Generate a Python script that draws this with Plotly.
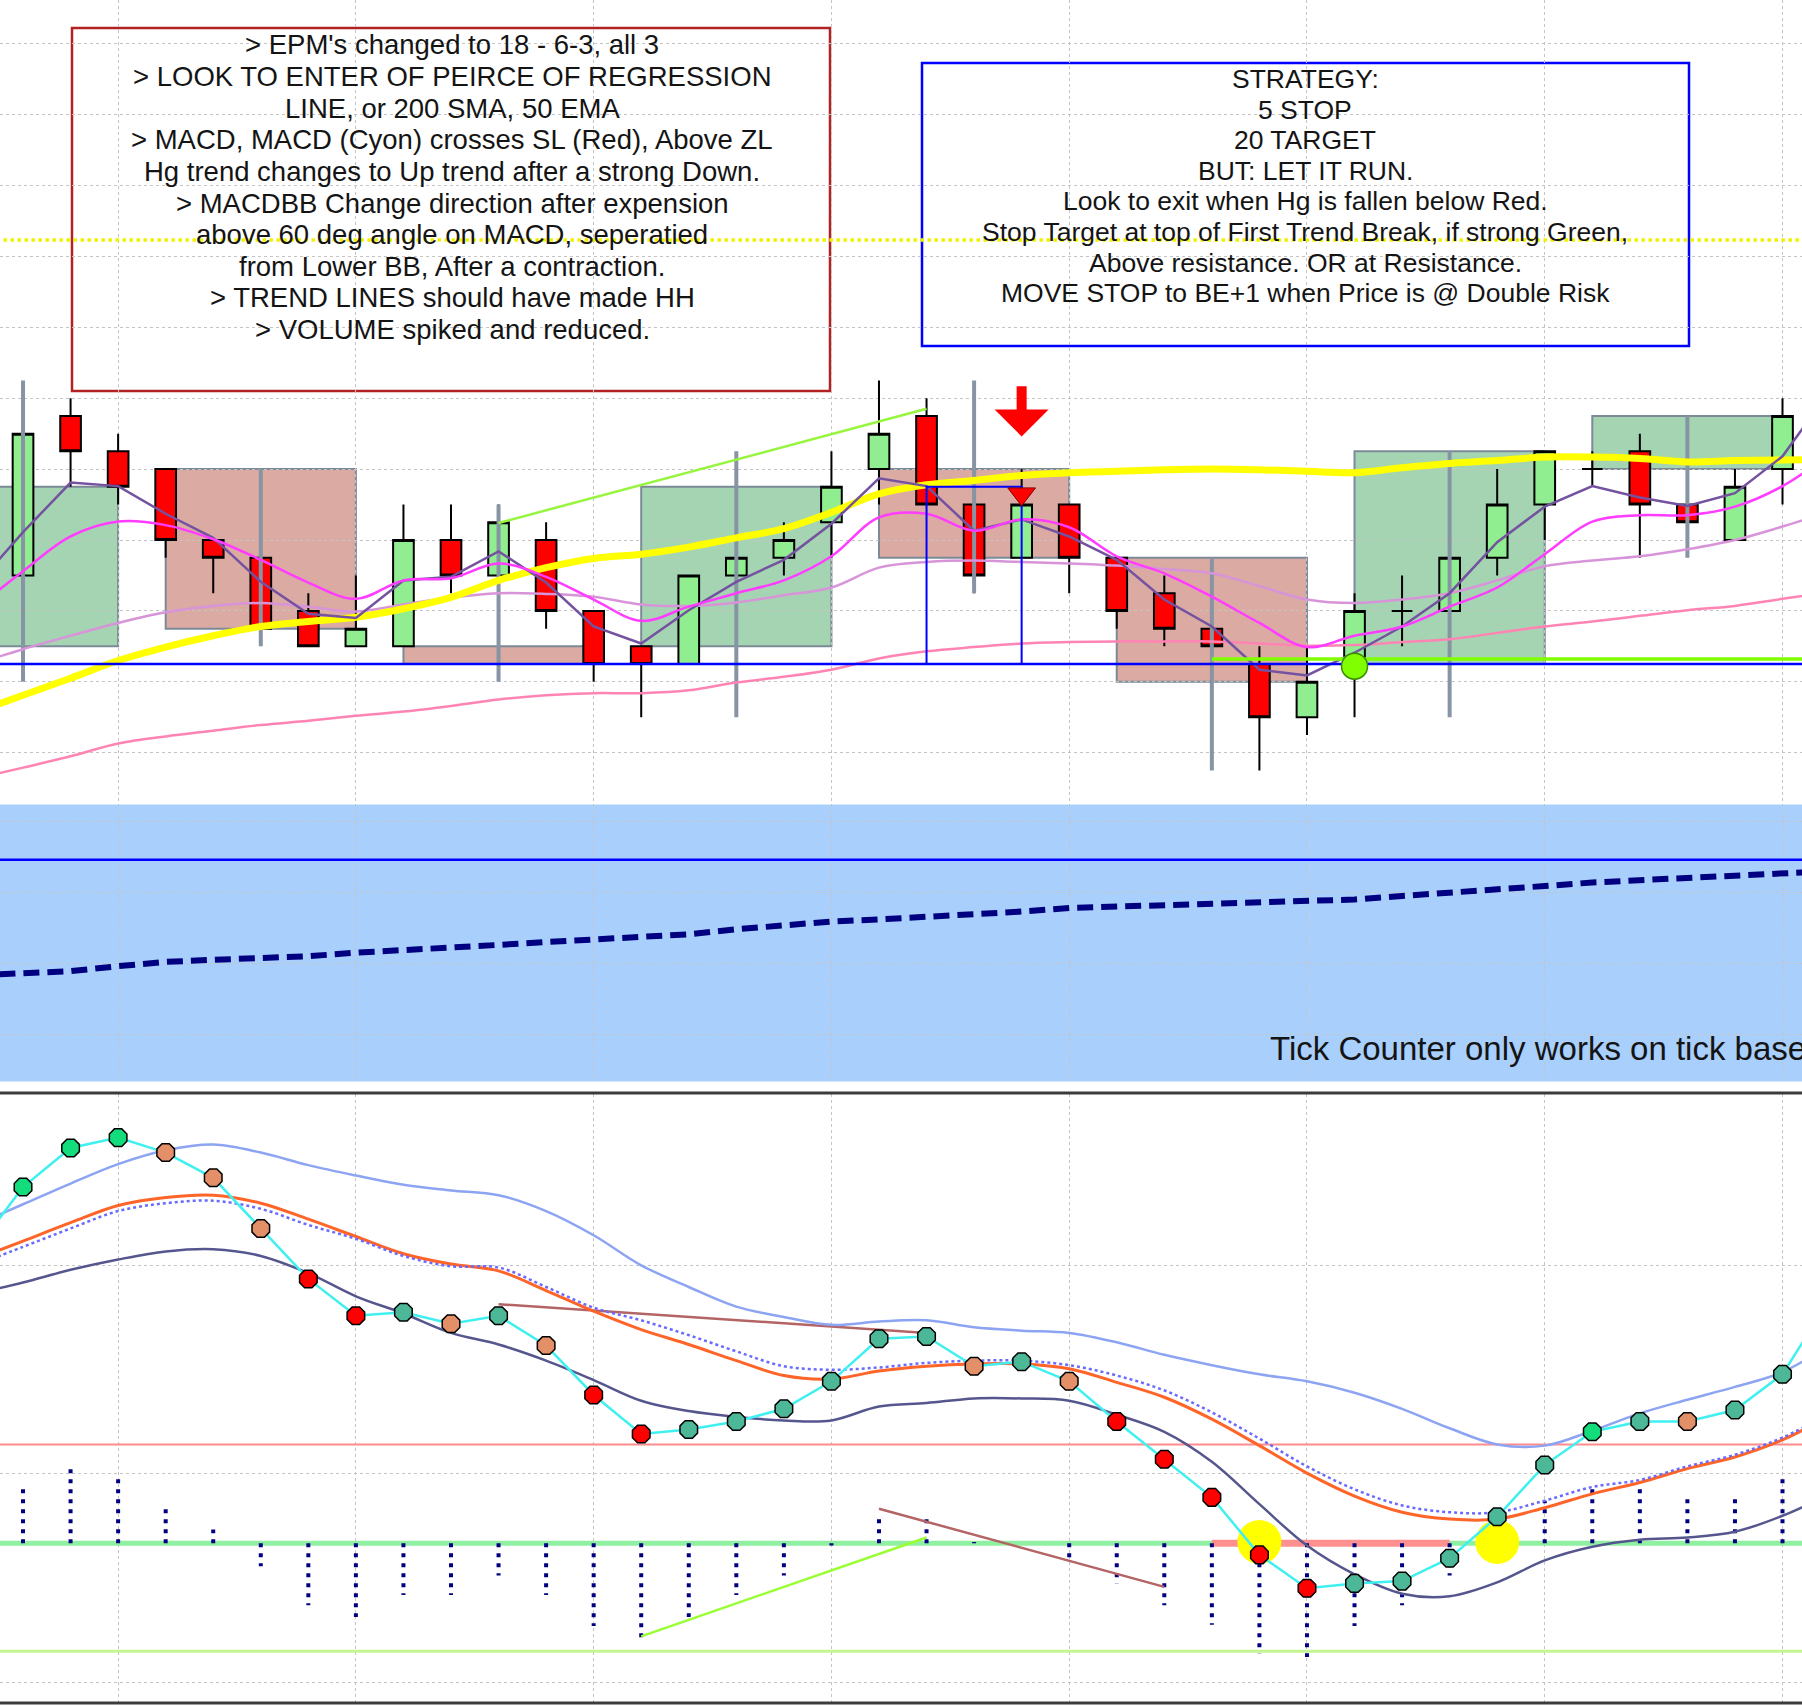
import plotly.graph_objects as go

W, H = 1802, 1706

# ---------------- price bars (tick = 0.25) ----------------
bars = list(range(38))
opens = [1298.50, 1300.75, 1300.25, 1300.00, 1299.00, 1298.75, 1298.00, 1297.50, 1297.50, 1299.00,
         1298.50, 1299.00, 1298.00, 1297.50, 1297.25, 1298.50, 1298.75, 1299.25, 1300.00, 1300.75,
         1299.50, 1298.75, 1299.50, 1298.75, 1298.25, 1297.75, 1297.25, 1296.50, 1297.25, 1298.00,
         1298.00, 1298.75, 1299.50, 1300.00, 1300.25, 1299.50, 1299.00, 1300.00]
highs = [1300.75, 1301.00, 1300.50, 1300.00, 1299.00, 1298.75, 1298.25, 1298.50, 1299.50, 1299.50,
         1299.50, 1299.25, 1298.00, 1297.50, 1298.50, 1299.00, 1299.25, 1300.25, 1301.25, 1301.00,
         1300.25, 1300.00, 1299.50, 1298.75, 1298.50, 1297.75, 1297.50, 1297.50, 1298.25, 1298.50,
         1299.00, 1300.00, 1300.25, 1300.25, 1300.50, 1299.75, 1300.00, 1301.00]
lows = [1298.25, 1299.75, 1299.50, 1298.75, 1298.25, 1297.75, 1297.50, 1297.50, 1297.50, 1298.25,
        1298.50, 1297.75, 1297.00, 1296.50, 1297.25, 1298.00, 1298.50, 1298.75, 1299.50, 1299.50,
        1298.25, 1298.75, 1298.25, 1297.75, 1297.50, 1297.25, 1295.75, 1296.25, 1296.50, 1297.50,
        1298.00, 1298.50, 1299.00, 1299.75, 1298.75, 1299.00, 1299.00, 1299.50]
closes = [1300.50, 1300.25, 1299.75, 1299.00, 1298.75, 1297.75, 1297.50, 1297.75, 1299.00, 1298.50,
          1299.25, 1298.00, 1297.25, 1297.25, 1298.50, 1298.75, 1299.00, 1299.75, 1300.50, 1299.50,
          1298.50, 1299.50, 1298.75, 1298.00, 1297.75, 1297.50, 1296.50, 1297.00, 1298.00, 1298.00,
          1298.75, 1299.50, 1300.25, 1300.00, 1299.50, 1299.25, 1299.75, 1300.75]

# overlays run one bar past each edge of the window
line_x = list(range(-1, 39))
sma_200 = [1296.57, 1296.81, 1297.05, 1297.30, 1297.49, 1297.65, 1297.78, 1297.85, 1297.91, 1298.03,
           1298.19, 1298.43, 1298.61, 1298.74, 1298.80, 1298.90, 1299.03, 1299.16, 1299.39, 1299.65,
           1299.78, 1299.84, 1299.91, 1299.95, 1299.97, 1299.99, 1300.00, 1299.99, 1299.97, 1299.95,
           1300.02, 1300.08, 1300.12, 1300.17, 1300.17, 1300.15, 1300.10, 1300.12, 1300.13, 1300.13]
ema_fast = [1298.35, 1299.11, 1299.81, 1299.76, 1299.37, 1299.03, 1298.41, 1297.96, 1297.90, 1298.43,
            1298.48, 1298.84, 1298.40, 1297.78, 1297.54, 1298.01, 1298.41, 1298.72, 1299.23, 1299.87,
            1299.76, 1299.13, 1299.29, 1299.05, 1298.72, 1298.16, 1297.78, 1297.17, 1297.09, 1297.41,
            1297.78, 1298.25, 1298.97, 1299.47, 1299.76, 1299.60, 1299.48, 1299.66, 1300.18, 1301.11]
ema_mid = [1298.03, 1298.56, 1299.05, 1299.26, 1299.21, 1299.01, 1298.72, 1298.40, 1298.17, 1298.43,
           1298.46, 1298.67, 1298.48, 1298.16, 1297.86, 1298.06, 1298.25, 1298.43, 1298.77, 1299.32,
           1299.37, 1299.13, 1299.29, 1299.18, 1298.77, 1298.53, 1298.20, 1297.83, 1297.49, 1297.65,
           1297.78, 1298.06, 1298.33, 1298.80, 1299.26, 1299.35, 1299.35, 1299.47, 1299.76, 1300.21]
ema_50 = [1297.25, 1297.46, 1297.65, 1297.83, 1297.98, 1298.07, 1298.11, 1298.06, 1297.99, 1298.09,
          1298.19, 1298.25, 1298.24, 1298.20, 1298.09, 1298.07, 1298.12, 1298.22, 1298.33, 1298.61,
          1298.69, 1298.71, 1298.69, 1298.67, 1298.64, 1298.59, 1298.53, 1298.35, 1298.16, 1298.11,
          1298.16, 1298.25, 1298.43, 1298.63, 1298.71, 1298.77, 1298.87, 1299.00, 1299.19, 1299.40]
sma_slow = [1295.63, 1295.79, 1295.95, 1296.13, 1296.23, 1296.31, 1296.39, 1296.45, 1296.52, 1296.58,
            1296.66, 1296.75, 1296.81, 1296.84, 1296.84, 1296.88, 1296.99, 1297.07, 1297.17, 1297.33,
            1297.43, 1297.49, 1297.54, 1297.56, 1297.57, 1297.57, 1297.57, 1297.54, 1297.51, 1297.52,
            1297.56, 1297.60, 1297.69, 1297.78, 1297.85, 1297.93, 1298.01, 1298.07, 1298.17, 1298.27]

# higher time frame candles (5 bars each)
htf_start = [-2, 3, 8, 13, 18, 23, 28, 33]
htf_open = [1297.50, 1300.00, 1297.50, 1297.50, 1300.00, 1298.75, 1297.25, 1300.00]
htf_close = [1299.75, 1297.75, 1297.25, 1299.75, 1298.75, 1297.00, 1300.25, 1300.75]
htf_high = [1301.25, 1300.00, 1299.50, 1300.25, 1301.25, 1298.75, 1300.25, 1300.75]
htf_low = [1297.00, 1297.50, 1297.00, 1296.50, 1298.25, 1295.75, 1296.50, 1298.75]

support_level = 1297.25
entry_level = 1297.32
entry_from_bar = 25
trend_bars = [10, 19]
trend_prices = [1299.24, 1300.85]
risk_bars = [19, 21]
risk_prices = [1297.25, 1299.75]
target_level = 1303.23
arrow_bar = 21
arrow_prices = [1301.19, 1300.46]
short_price = 1299.65
long_bar = 28
long_price = 1297.22

# ---------------- tick counter panel ----------------
tick_ma = [8.3, 8.6, 8.9, 9.6, 10.2, 10.5, 10.7, 11.0, 11.5, 11.8, 12.2, 12.6, 13.0, 13.3, 13.6, 14.1,
           14.8, 15.4, 15.9, 16.2, 16.5, 16.9, 17.3, 17.8, 18.0, 18.2, 18.3, 18.5, 18.8, 19.0, 19.5,
           19.9, 20.4, 20.9, 21.4, 21.7, 22.0, 22.4, 22.7, 23.0]
tick_level = 24.6

# ---------------- MACD BB panel ----------------
macd = [1.417, 1.722, 1.911, 1.961, 1.889, 1.767, 1.522, 1.278, 1.100, 1.117, 1.061, 1.100, 0.956,
        0.717, 0.528, 0.550, 0.589, 0.650, 0.783, 0.989, 1.000, 0.856, 0.878, 0.783, 0.589, 0.406,
        0.222, -0.056, -0.217, -0.194, -0.183, -0.072, 0.128, 0.378, 0.539, 0.589, 0.589, 0.644,
        0.817, 1.183]
macd_state = ["G", "G", "G", "S", "S", "S", "R", "R", "T", "S", "T", "S", "R", "R", "T", "T", "T",
              "T", "T", "T", "S", "T", "S", "R", "R", "R", "R", "R", "T", "T", "T", "T", "T", "G",
              "T", "S", "T", "T"]
macd_upper = [1.539, 1.639, 1.739, 1.833, 1.900, 1.928, 1.889, 1.828, 1.778, 1.733, 1.706, 1.683,
              1.606, 1.489, 1.344, 1.239, 1.144, 1.094, 1.056, 1.072, 1.078, 1.044, 1.028, 1.017,
              0.972, 0.911, 0.861, 0.817, 0.783, 0.728, 0.650, 0.556, 0.478, 0.472, 0.544, 0.628,
              0.694, 0.756, 0.828, 0.961]
macd_signal = [1.372, 1.461, 1.550, 1.633, 1.672, 1.683, 1.644, 1.567, 1.483, 1.400, 1.350, 1.317,
               1.222, 1.122, 1.033, 0.961, 0.883, 0.811, 0.794, 0.833, 0.856, 0.867, 0.867, 0.844,
               0.778, 0.706, 0.600, 0.472, 0.339, 0.228, 0.150, 0.117, 0.117, 0.172, 0.239, 0.294,
               0.361, 0.417, 0.500, 0.617]
macd_basis = [1.344, 1.433, 1.522, 1.606, 1.644, 1.656, 1.617, 1.539, 1.472, 1.389, 1.339, 1.333,
              1.239, 1.139, 1.078, 1.006, 0.928, 0.856, 0.839, 0.850, 0.872, 0.883, 0.883, 0.861,
              0.811, 0.739, 0.633, 0.506, 0.372, 0.261, 0.183, 0.150, 0.150, 0.206, 0.272, 0.306,
              0.372, 0.428, 0.511, 0.628]
macd_slow = [1.206, 1.261, 1.322, 1.372, 1.411, 1.422, 1.389, 1.306, 1.194, 1.111, 1.017, 0.961,
             0.883, 0.789, 0.689, 0.639, 0.611, 0.594, 0.594, 0.661, 0.678, 0.700, 0.700, 0.689,
             0.622, 0.539, 0.394, 0.189, -0.011, -0.150, -0.244, -0.256, -0.189, -0.083, -0.017,
             0.017, 0.028, 0.056, 0.133, 0.239]
macd_hist = [0.267, 0.361, 0.322, 0.178, 0.067, -0.111, -0.300, -0.356, -0.250, -0.250, -0.156,
             -0.250, -0.400, -0.461, -0.356, -0.250, -0.156, -0.011, 0.122, 0.122, 0.006, 0.0,
             -0.067, -0.194, -0.300, -0.394, -0.533, -0.550, -0.400, -0.300, -0.156, 0.011, 0.206,
             0.267, 0.267, 0.222, 0.222, 0.322]
upper_level = 0.478
lower_level = -0.522
zero_band_bars = [25, 30]
cross_bars = [26, 31]
cross_values = [0.006, 0.006]
macd_trend_hi = ([10, 19], [1.156, 1.017])
macd_trend_mid = ([18, 24], [0.167, -0.211])
macd_trend_up = ([13, 19], [-0.450, 0.028])

note_lines = [
    "> EPM's changed to 18 - 6-3, all 3",
    "> LOOK TO ENTER OF PEIRCE OF REGRESSION",
    "LINE, or 200 SMA, 50 EMA",
    "> MACD, MACD (Cyon) crosses SL (Red), Above ZL",
    "Hg trend changes to Up trend after a strong Down.",
    "> MACDBB Change direction after expension",
    "above 60 deg angle on MACD, seperatied",
    "from Lower BB, After a contraction.",
    "> TREND LINES should have made HH",
    "> VOLUME spiked and reduced.",
]
strategy_lines = [
    "STRATEGY:",
    "5 STOP",
    "20 TARGET",
    "BUT: LET IT RUN.",
    "Look to exit when Hg is fallen below Red.",
    "Stop Target at top of First Trend Break, if strong Green,",
    "Above resistance. OR at Resistance.",
    "MOVE STOP to BE+1 when Price is @ Double Risk",
]

FONT = "Arial, Liberation Sans, sans-serif"
state_colors = {"G": "#12dc7c", "T": "#4db898", "S": "#e39068", "R": "#ff0000"}


def ln(x, y, color, width, axis, dash="solid", shape="linear"):
    return go.Scatter(x=x, y=y, mode="lines", line=dict(color=color, width=width, dash=dash, shape=shape),
                      xaxis=axis[0], yaxis=axis[1], hoverinfo="skip", showlegend=False)


P = ("x", "y")
M = ("x2", "y2")
B = ("x3", "y3")

fig = go.Figure()

# higher time frame wicks
wx, wy = [], []
for s, hi, lo in zip(htf_start, htf_high, htf_low):
    wx += [s + 2, s + 2, None]
    wy += [lo, hi, None]
fig.add_trace(ln(wx, wy, "#8794a3", 4, P))

fig.add_trace(ln(line_x, sma_slow, "#ff84b4", 2.5, P, shape="spline"))
fig.add_trace(ln(line_x, ema_50, "#d894d8", 2.5, P, shape="spline"))
fig.add_trace(ln(line_x, sma_200, "#ffff00", 7, P, shape="spline"))

fig.add_trace(go.Candlestick(
    x=bars, open=opens, high=highs, low=lows, close=closes,
    increasing=dict(fillcolor="#90ee90", line=dict(color="black", width=2)),
    decreasing=dict(fillcolor="#ff0000", line=dict(color="black", width=2)),
    whiskerwidth=0, xaxis="x", yaxis="y", hoverinfo="skip", showlegend=False))

fig.add_trace(ln(line_x, ema_fast, "#7452a0", 2.5, P))
fig.add_trace(ln(line_x, ema_mid, "#ff3cff", 2.5, P, shape="spline"))

fig.add_trace(ln([line_x[0], line_x[-1]], [support_level] * 2, "#0000ff", 2.5, P))
fig.add_trace(ln([entry_from_bar, line_x[-1]], [entry_level] * 2, "#80ff00", 3.5, P))
fig.add_trace(ln(trend_bars, trend_prices, "#96f53c", 2.5, P))
fig.add_trace(ln([risk_bars[0], risk_bars[0], risk_bars[1], risk_bars[1]],
                 [risk_prices[0], risk_prices[1], risk_prices[1], risk_prices[0]], "#0000ff", 2, P))
fig.add_trace(ln([line_x[0], line_x[-1]], [target_level] * 2, "#f2f200", 3.5, P, dash="dot"))

fig.add_trace(go.Scatter(x=[arrow_bar], y=[short_price], mode="markers",
                         marker=dict(symbol="triangle-down", size=24, color="#ff0000",
                                     line=dict(color="#800000", width=1)),
                         xaxis="x", yaxis="y", hoverinfo="skip", showlegend=False))
fig.add_trace(go.Scatter(x=[long_bar], y=[long_price], mode="markers",
                         marker=dict(symbol="circle", size=26, color="#80ff00",
                                     line=dict(color="#3c8c00", width=1.5)),
                         xaxis="x", yaxis="y", hoverinfo="skip", showlegend=False))

# tick counter
fig.add_trace(ln([line_x[0], line_x[-1]], [tick_level] * 2, "#0000ff", 2.5, M))
fig.add_trace(ln(line_x, tick_ma, "#000080", 6, M, dash="16px,8px"))

# MACD panel
fig.add_trace(ln([line_x[0], line_x[-1]], [upper_level] * 2, "#ff8c8c", 2, B))
fig.add_trace(ln([line_x[0], line_x[-1]], [0, 0], "#8ef0a0", 5, B))
fig.add_trace(ln([line_x[0], line_x[-1]], [lower_level] * 2, "#c4f590", 3, B))
fig.add_trace(ln(zero_band_bars, [0, 0], "#ff9090", 7, B))

hx, hy = [], []
for i, v in zip(bars, macd_hist):
    if v != 0:
        hx += [i, i, None]
        hy += [0, v, None]
fig.add_trace(ln(hx, hy, "#000080", 4, B, dash="4px,6px"))

fig.add_trace(ln(*macd_trend_hi, "#b46464", 2.5, B))
fig.add_trace(ln(*macd_trend_mid, "#b46464", 2.5, B))
fig.add_trace(ln(*macd_trend_up, "#99ff33", 2.5, B))

fig.add_trace(ln(line_x, macd_upper, "#8ca4f2", 2.5, B, shape="spline"))
fig.add_trace(ln(line_x, macd_slow, "#56568e", 2.5, B, shape="spline"))
fig.add_trace(ln(line_x, macd_signal, "#ff6428", 3, B, shape="spline"))
fig.add_trace(ln(line_x, macd_basis, "#6a6aff", 2.5, B, dash="dot", shape="spline"))

fig.add_trace(go.Scatter(x=cross_bars, y=cross_values, mode="markers",
                         marker=dict(size=44, color="#ffff00"),
                         xaxis="x3", yaxis="y3", hoverinfo="skip", showlegend=False))
fig.add_trace(ln(line_x, macd, "#40f0f0", 2.5, B))
fig.add_trace(go.Scatter(x=bars, y=macd[1:-1], mode="markers",
                         marker=dict(symbol="octagon", size=19,
                                     color=[state_colors[s] for s in macd_state],
                                     line=dict(color="black", width=1.5)),
                         xaxis="x3", yaxis="y3", hoverinfo="skip", showlegend=False))

shapes = []
for s, o, c in zip(htf_start, htf_open, htf_close):
    shapes.append(dict(type="rect", xref="x", yref="y", x0=s, x1=s + 4, y0=o, y1=c, layer="below",
                       fillcolor="#a5d4b3" if c > o else "#daaaa3",
                       line=dict(color="#7c8a98", width=2)))
shapes.append(dict(type="rect", xref="paper", yref="y2 domain", x0=0, x1=1, y0=0, y1=1,
                   layer="below", fillcolor="#a9cffc", line=dict(width=0)))
shapes.append(dict(type="rect", xref="paper", yref="paper", x0=72 / W, x1=830 / W,
                   y0=1 - 391 / H, y1=1 - 28 / H, layer="between", fillcolor="white",
                   line=dict(color="#b22222", width=2.5)))
shapes.append(dict(type="rect", xref="paper", yref="paper", x0=922 / W, x1=1689 / W,
                   y0=1 - 346 / H, y1=1 - 63 / H, layer="between", fillcolor="white",
                   line=dict(color="#0000ff", width=2.5)))
for yy in (1093, 1703):
    shapes.append(dict(type="line", xref="paper", yref="paper", x0=0, x1=1, y0=1 - yy / H,
                       y1=1 - yy / H, line=dict(color="#3c3c3c", width=3)))

annotations = []
for k, t in enumerate(note_lines):
    annotations.append(dict(text=t, xref="paper", yref="paper", x=452 / W, y=1 - (45 + 31.6 * k) / H,
                            xanchor="center", yanchor="middle", showarrow=False,
                            font=dict(family=FONT, size=27.5, color="#141414")))
for k, t in enumerate(strategy_lines):
    annotations.append(dict(text=t, xref="paper", yref="paper", x=1305 / W, y=1 - (79 + 30.6 * k) / H,
                            xanchor="center", yanchor="middle", showarrow=False,
                            font=dict(family=FONT, size=26.5, color="#141414")))
annotations.append(dict(text="Tick Counter only works on tick based charts", xref="paper", yref="paper",
                        x=1268 / W, y=1 - 1048 / H, xanchor="left", yanchor="middle", showarrow=False,
                        font=dict(family=FONT, size=33, color="#141414")))
annotations.append(dict(text="", x=arrow_bar, y=arrow_prices[1], ax=arrow_bar, ay=arrow_prices[0],
                        xref="x", yref="y", axref="x", ayref="y", showarrow=True, arrowhead=1,
                        arrowsize=0.9, arrowwidth=10, arrowcolor="#ff0000"))

grid = dict(showgrid=True, gridcolor="#c4c4c4", gridwidth=1, griddash="dot", zeroline=False,
            showticklabels=False, ticks="", showline=False, fixedrange=True)
xr = [-0.484, 37.41]
xt = list(range(2, 38, 5))

fig.update_layout(
    width=W, height=H, margin=dict(l=0, r=0, t=0, b=0),
    paper_bgcolor="white", plot_bgcolor="white", showlegend=False, hovermode=False,
    boxgap=0.565, boxgroupgap=0,
    xaxis=dict(domain=[0, 1], range=xr, tickvals=xt, anchor="y", rangeslider=dict(visible=False), **grid),
    xaxis2=dict(domain=[0, 1], range=xr, tickvals=xt, anchor="y2", **grid),
    xaxis3=dict(domain=[0, 1], range=xr, tickvals=xt, anchor="y3", **grid),
    yaxis=dict(domain=[0.52849, 1], range=[1295.271, 1306.616], tickvals=list(range(1296, 1307)),
               anchor="x", **grid),
    yaxis2=dict(domain=[0.36612, 0.52849], range=[-6.645, 32.41], tickvals=[0, 10, 20, 30],
                anchor="x2", **grid),
    yaxis3=dict(domain=[0.00106, 0.35873], range=[-0.778, 2.172], tickvals=[-0.672, 0.339, 1.344],
                anchor="x3", **grid),
    shapes=shapes, annotations=annotations,
)

# page body has a default margin; drop it so the chart sits flush with the window
fig.write_html("out.html", config={"displayModeBar": False},
               post_script="document.body.style.margin = '0';")
